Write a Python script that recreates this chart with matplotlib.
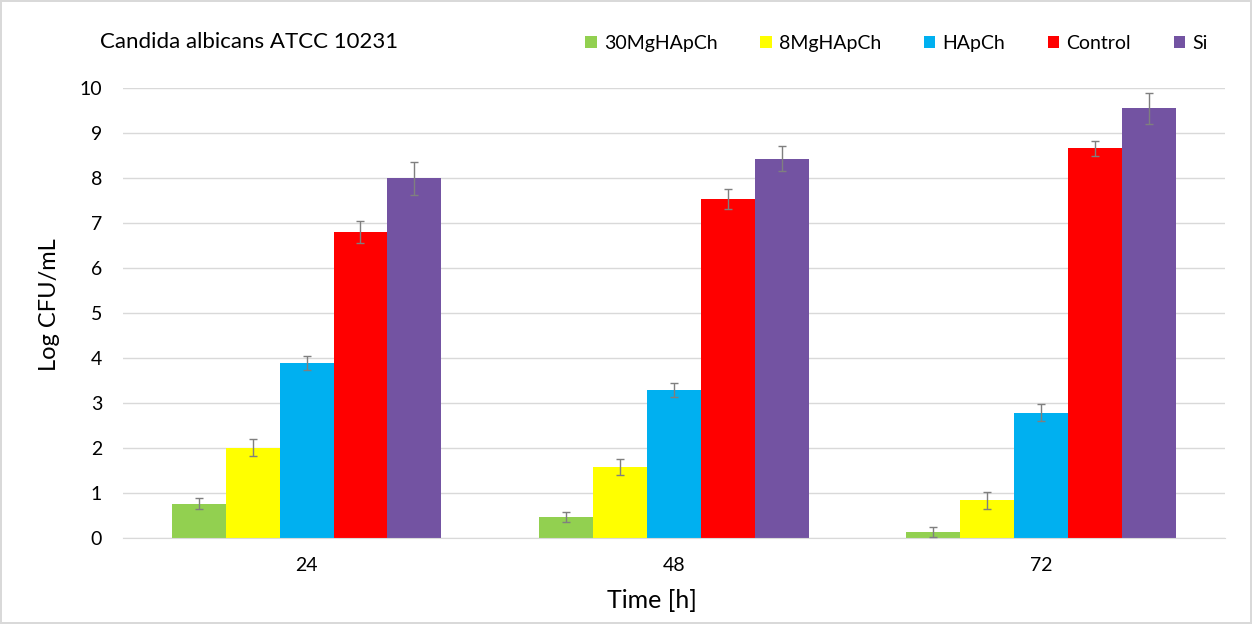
import matplotlib
matplotlib.use('Agg')
import matplotlib.pyplot as plt
import numpy as np

plt.rcParams['font.family'] = ['Lato', 'DejaVu Sans']

times = ['24', '48', '72']
series = ['30MgHApCh', '8MgHApCh', 'HApCh', 'Control', 'Si']
colors = ['#92D050', '#FFFF00', '#00B0F0', '#FF0000', '#7353A2']

# mean Log CFU/mL per series, one value per time point
mg30 = [0.76, 0.46, 0.13]
mg8 = [2.00, 1.57, 0.84]
hapch = [3.89, 3.29, 2.78]
control = [6.80, 7.53, 8.66]
si = [7.99, 8.43, 9.55]

mg30_err = [0.12, 0.11, 0.11]
mg8_err = [0.19, 0.18, 0.19]
hapch_err = [0.15, 0.16, 0.19]
control_err = [0.25, 0.23, 0.17]
si_err = [0.37, 0.27, 0.34]

values = [mg30, mg8, hapch, control, si]
errors = [mg30_err, mg8_err, hapch_err, control_err, si_err]

fig = plt.figure(figsize=(12.52, 6.24), dpi=100)
fig.patch.set_edgecolor('#D9D9D9')
fig.patch.set_linewidth(1.5)
ax = fig.add_axes([0.0982, 0.138, 0.880, 0.721])

x = np.arange(len(times))
width = 0.1467
for i, (name, vals, errs, c) in enumerate(zip(series, values, errors, colors)):
    pos = x + (i - 2) * width
    ax.bar(pos, vals, width, color=c, label=name, zorder=2)
    ax.errorbar(pos, vals, yerr=errs, fmt='none', ecolor='#7F7F7F',
                elinewidth=1, capsize=3, capthick=1, zorder=3)

ax.set_xlim(-0.5, 2.5)
ax.set_ylim(0, 10)
ax.set_yticks(range(0, 11))
ax.set_xticks(x)
ax.set_xticklabels(times)
ax.tick_params(axis='both', length=0, labelsize=14, colors='#000000')
ax.tick_params(axis='y', pad=15)
ax.tick_params(axis='x', pad=14)
ax.grid(axis='y', color='#D9D9D9', linewidth=1, zorder=0)
ax.set_axisbelow(True)
for s in ['top', 'right', 'left']:
    ax.spines[s].set_visible(False)
ax.spines['bottom'].set_color('#D9D9D9')

fig.text(50 / 1252, 1 - 305 / 624, 'Log CFU/mL', fontsize=17,
         rotation=90, ha='center', va='center')
fig.text(652 / 1252, 1 - 601 / 624, 'Time [h]', fontsize=18,
         ha='center', va='center')

fig.text(0.08, 0.932, 'Candida albicans ATCC 10231', fontsize=16,
         va='center', ha='left')

fig.legend(loc='center', bbox_to_anchor=(0.716, 0.931), ncol=5,
           frameon=False, fontsize=14, handlelength=0.6, handleheight=0.6,
           handletextpad=0.35, columnspacing=2.2)

fig.savefig('out.png', dpi=100)
